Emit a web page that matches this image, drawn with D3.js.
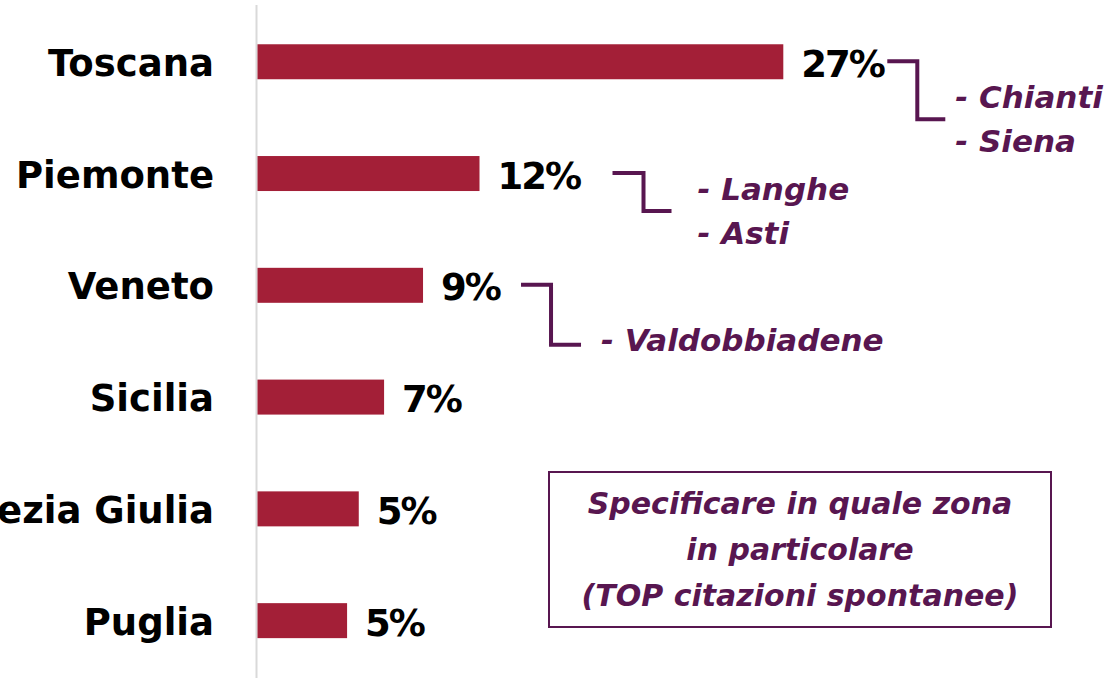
<!DOCTYPE html>
<html>
<head>
<meta charset="utf-8">
<script src="https://cdn.jsdelivr.net/npm/d3@7/dist/d3.min.js"></script>
<style>
  html, body { margin: 0; padding: 0; background: #ffffff; overflow: hidden; }
  svg { display: block; }
</style>
</head>
<body>
<svg id="chart" width="1115" height="678"></svg>
<script>
// ---- data ----
const categories = ["Toscana", "Piemonte", "Veneto", "Sicilia", "Friuli Venezia Giulia", "Puglia"];
const values = [27.0, 11.4, 8.5, 6.5, 5.2, 4.6];
const valueLabels = ["27%", "12%", "9%", "7%", "5%", "5%"];
const zoneRegions = ["Toscana", "Piemonte", "Veneto"];
const zoneNames = [["Chianti", "Siena"], ["Langhe", "Asti"], ["Valdobbiadene"]];
const noteLines = ["Specificare in quale zona", "in particolare", "(TOP citazioni spontanee)"];

// ---- layout / style ----
const W = 1115, H = 678;
const barColor = "#a31f37";
const purple = "#581650";
const catFont = "'DejaVu Sans', sans-serif";
const noteFont = "'DejaVu Sans', sans-serif";
// per-annotation connector geometry (px offsets)
const zoneLayout = [
  { dx: 104, drop: 58, run1: 30, run2: 28, textDx: 10, firstDy: 47 },
  { dx: 133, drop: 38, run1: 31, run2: 28, textDx: 26, firstDy: 27 },
  { dx: 98,  drop: 60, run1: 30, run2: 30, textDx: 20, firstDy: 66 }
];

const svg = d3.select("#chart");

const x = d3.scaleLinear().domain([0, 27]).range([257.5, 783.3]);
const y = d3.scaleBand().domain(categories).range([5.7, 676.7]).paddingInner(0.687).paddingOuter(0.345);

// axis line
svg.append("line")
  .attr("x1", 256.5).attr("x2", 256.5)
  .attr("y1", 5).attr("y2", H)
  .attr("stroke", "#d9d9d9").attr("stroke-width", 2);

// bars
svg.selectAll("rect.bar")
  .data(categories)
  .join("rect")
  .attr("class", "bar")
  .attr("x", x(0))
  .attr("y", d => y(d))
  .attr("width", (d, i) => x(values[i]) - x(0))
  .attr("height", y.bandwidth())
  .attr("fill", barColor);

// category labels
svg.selectAll("text.cat")
  .data(categories)
  .join("text")
  .attr("class", "cat")
  .attr("x", 214)
  .attr("y", d => y(d) + y.bandwidth() / 2 + 14)
  .attr("text-anchor", "end")
  .attr("font-family", catFont)
  .attr("font-weight", 700)
  .attr("font-size", 37)
  .attr("fill", "#000")
  .text(d => d);

// value labels
svg.selectAll("text.val")
  .data(categories)
  .join("text")
  .attr("class", "val")
  .attr("x", (d, i) => x(values[i]) + 18)
  .attr("y", d => y(d) + y.bandwidth() / 2 + 15)
  .attr("font-family", catFont)
  .attr("font-weight", 700)
  .attr("font-size", 37)
  .attr("letter-spacing", -2)
  .attr("fill", "#000")
  .text((d, i) => valueLabels[i]);

// zone annotations
zoneRegions.forEach((reg, k) => {
  const i = categories.indexOf(reg);
  const L = zoneLayout[k];
  const cy = y(reg) + y.bandwidth() / 2 - 0.5;
  const x0 = x(values[i]) + L.dx;
  const x1 = x0 + L.run1;
  const x2 = x1 + L.run2;
  svg.append("path")
    .attr("d", `M${x0},${cy} H${x1} V${cy + L.drop} H${x2}`)
    .attr("fill", "none")
    .attr("stroke", purple)
    .attr("stroke-width", 4);
  zoneNames[k].forEach((nm, j) => {
    svg.append("text")
      .attr("x", x2 + L.textDx)
      .attr("y", cy + L.firstDy + j * 44)
      .attr("font-family", noteFont)
      .attr("font-weight", 700)
      .attr("font-style", "italic")
      .attr("font-size", 31)
      .attr("fill", purple)
      .text("- " + nm);
  });
});

// note box
svg.append("rect")
  .attr("x", 549).attr("y", 472)
  .attr("width", 502).attr("height", 155)
  .attr("fill", "none")
  .attr("stroke", purple)
  .attr("stroke-width", 2);

svg.selectAll("text.note")
  .data(noteLines)
  .join("text")
  .attr("class", "note")
  .attr("x", 800)
  .attr("y", (d, i) => 514 + i * 46)
  .attr("text-anchor", "middle")
  .attr("font-family", noteFont)
  .attr("font-weight", 700)
  .attr("font-style", "italic")
  .attr("font-size", 30)
  .attr("fill", purple)
  .text(d => d);
</script>
</body>
</html>
